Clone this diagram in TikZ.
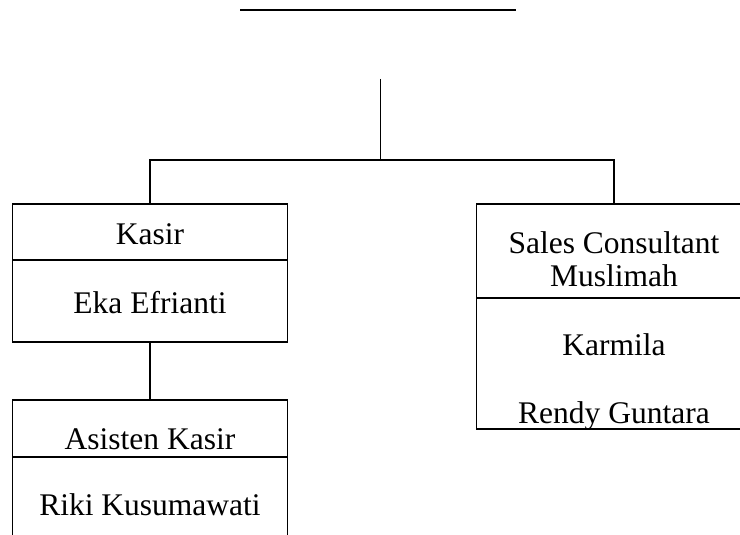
\documentclass[tikz,border=0pt]{standalone}
\usepackage{fontspec}
\setmainfont{Liberation Serif}
\usetikzlibrary{positioning}

\begin{document}
\begin{tikzpicture}[x=1pt,y=1pt,
   every node/.style={font=\fontsize{31.5}{38}\selectfont},
   cell/.style={draw,line width=1.3pt,minimum width=275pt,inner sep=0pt,outer sep=0pt},
   lbl/.style={anchor=base,inner sep=0pt}]
\clip (0,0) rectangle (740,-535);
% top of the chart
\coordinate (topl) at (240,-10);
\coordinate (topr) at (516,-10);
\draw[line width=1.8pt] (topl) -- (topr);
\coordinate (stem) at (380.5,-79);
\coordinate (fork) at (380.5,-160);
% Kasir
\node[cell,minimum height=56pt] (kasir) at (150,-232) {};
\node[cell,minimum height=82pt,below=0pt of kasir] (eka) {};
\node[lbl] (tkasir) at (150,-244) {Kasir};
\node[lbl] (teka) at (150,-313) {Eka Efrianti};
% Asisten Kasir
\node[cell,minimum height=57pt] (asisten) at (150,-428.5) {};
\node[cell,minimum height=100pt,below=0pt of asisten] (riki) {};
\node[lbl] (tasisten) at (150,-449) {Asisten Kasir};
\node[lbl] (triki) at (150,-515) {Riki Kusumawati};
% Sales Consultant
\node[cell,minimum height=94pt] (sales) at (614,-251) {};
\node[cell,minimum height=131pt,below=0pt of sales] (staf) {};
\node[lbl] (tsales) at (614,-253) {Sales Consultant};
\node[lbl] (tmuslimah) at (614,-286) {Muslimah};
\node[lbl] (tkarmila) at (614,-355) {Karmila};
\node[lbl] (trendy) at (614,-423) {Rendy Guntara};
% lines
\draw[line width=1.3pt] (stem) -- (fork);
\draw[line width=1.3pt] (kasir.north) |- (fork) -| (sales.north);
\draw[line width=1.3pt] (eka) -- (asisten);
\end{tikzpicture}
\end{document}
